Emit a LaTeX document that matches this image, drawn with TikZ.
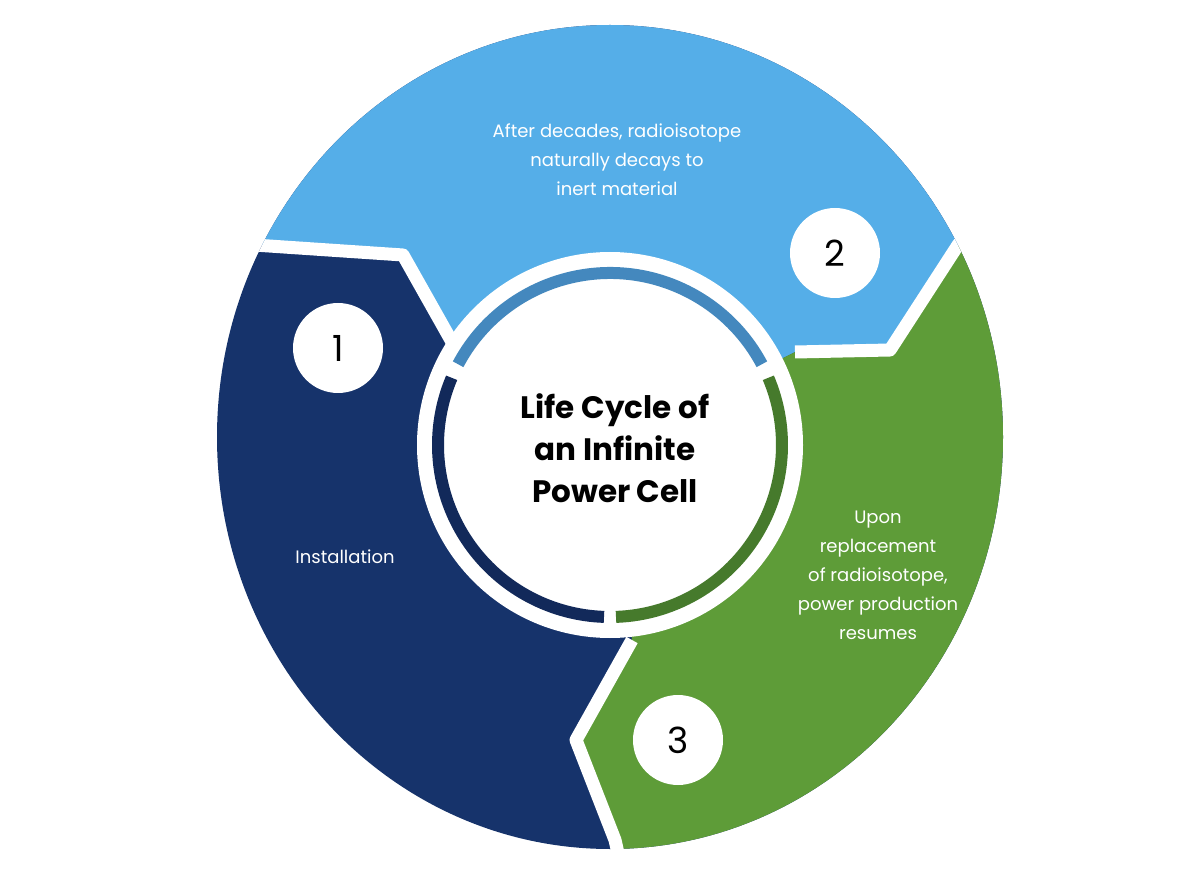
\documentclass[tikz,border=0pt]{standalone}
\usepackage{fontspec}
\setmainfont{Poppins}
\begin{document}
\begin{tikzpicture}[x=1pt,y=-1pt,
  gap/.style={white,line width=13pt,line join=round},
  num/.style={circle,fill=white,minimum size=90pt,inner sep=0pt,font=\fontsize{36}{36}\selectfont},
  lbl/.style={text=white,align=center,font=\fontsize{18}{29}\selectfont},
  ringarc/.style={line width=12pt}]
\useasboundingbox (0,0) rectangle (1200,893);
\fill[white] (0,0) rectangle (1200,893);
\definecolor{dblue}{HTML}{16336B}
\definecolor{lblue}{HTML}{55AEE8}
\definecolor{lgreen}{HTML}{5E9C38}
\definecolor{rblue}{HTML}{4488BE}
\definecolor{rnavy}{HTML}{12295A}
\definecolor{rgreen}{HTML}{467A2C}
\coordinate (c) at (610,445);
\begin{scope}
\clip (610,437) ellipse [x radius=393pt, y radius=412pt];
\fill[dblue] (0,0) rectangle (1200,893);
\fill[lblue] (c) -- (452,342) -- (403,255) -- (150,238) -- (150,-20) -- (1150,-20) -- (1100,60) -- (958,245) -- (890,350) -- (795,352) -- cycle;
\fill[lgreen] (c) -- (795,352) -- (890,350) -- (958,245) -- (1100,60) -- (1150,-20) -- (1250,950) -- (640,950) -- (615,840) -- (576,740) -- (632,640) -- cycle;
\draw[gap] (452,342) -- (403,255) -- (150,238);
\draw[gap] (795,352) -- (890,350) -- (958,245) -- (1100,60);
\draw[gap] (640,950) -- (615,840) -- (576,740) -- (632,640);
\end{scope}
\fill[white] (c) circle[radius=193pt];
\draw[ringarc,rblue] (c) ++(152:172pt) arc[start angle=152,end angle=28,radius=172pt];
\draw[ringarc,rnavy] (c) ++(157:172pt) arc[start angle=157,end angle=268,radius=172pt];
\draw[ringarc,rgreen] (c) ++(272:172pt) arc[start angle=272,end angle=383,radius=172pt];
\node[align=center,font=\fontsize{31}{42}\selectfont\bfseries] (t) at (615,448) {Life Cycle of\\an Infinite\\Power Cell};
\node[num] (n1) at (338,348) {1};
\node[num] (n2) at (835,253) {2};
\node[num] (n3) at (678,740) {3};
\node[lbl] (l2) at (617,160) {After decades, radioisotope\\naturally decays to\\inert material};
\node[lbl] (l1) at (345,557) {Installation};
\node[lbl] (l3) at (878,575) {Upon\\replacement\\of radioisotope,\\power production\\resumes};
\end{tikzpicture}
\end{document}
